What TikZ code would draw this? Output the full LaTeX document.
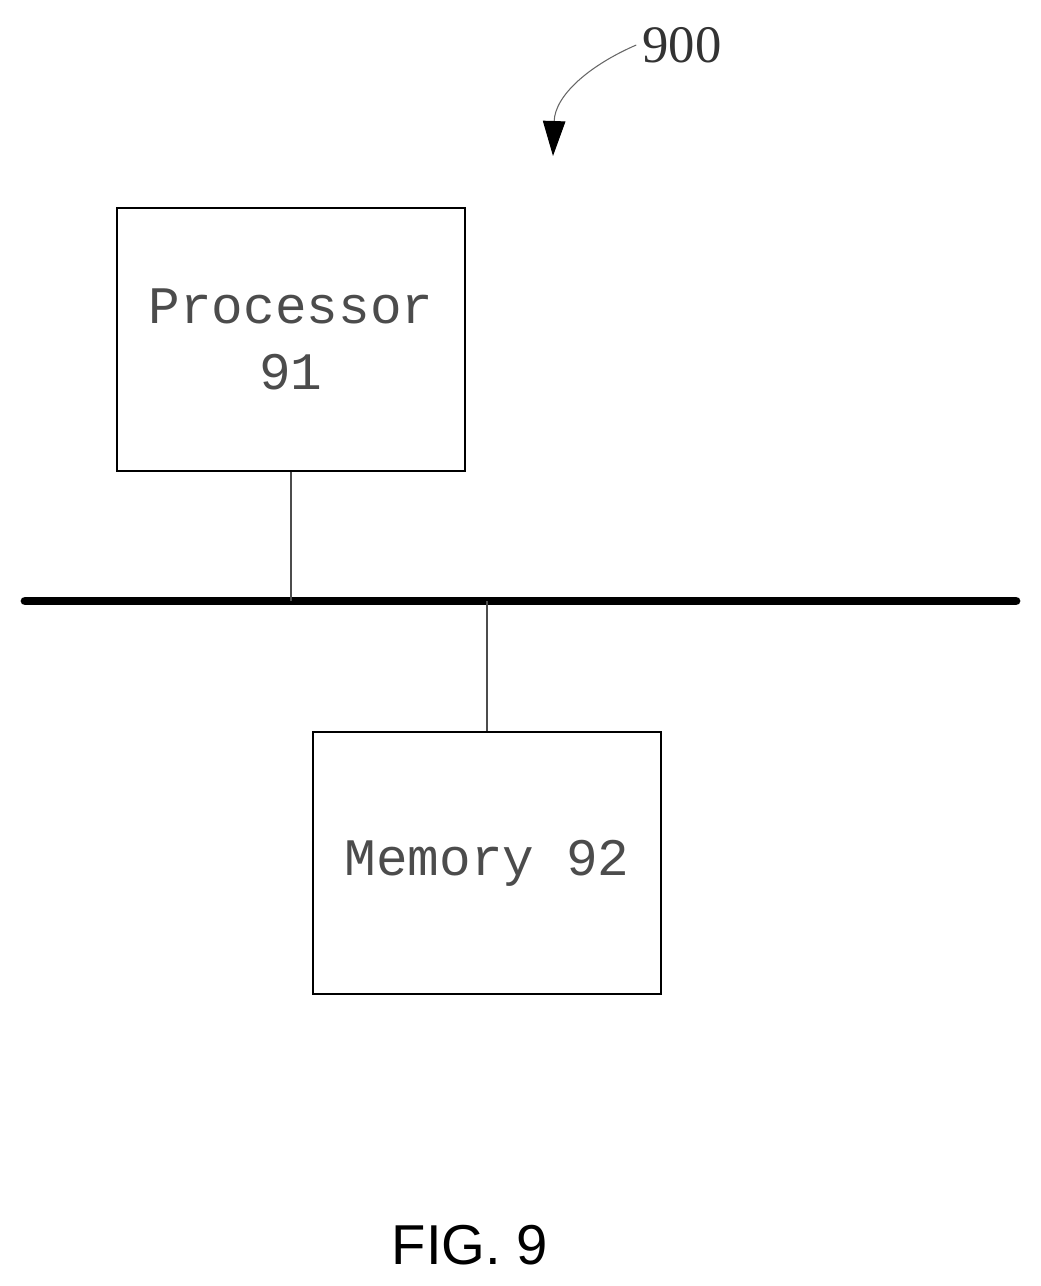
\documentclass[tikz,border=0pt]{standalone}
\usepackage{fontspec}
\setmainfont{Liberation Serif}
\newfontfamily\boxfont{Liberation Mono}
\newfontfamily\figfont{Liberation Sans}
\usetikzlibrary{positioning, arrows.meta}
\begin{document}
\begin{tikzpicture}[x=0.02cm,y=-0.02cm]
  \tikzstyle{block}=[draw,line width=0.6pt,inner sep=0pt,text=black!70,font=\boxfont\fontsize{30}{38}\selectfont,align=center]
  \tikzstyle{tap}=[line width=0.6pt,draw=black!70]
  \useasboundingbox (0,0) rectangle (1041,1286);

  \node (proc) [block,minimum width=348*0.02cm,minimum height=263*0.02cm] at (291,339.5) {Processor\\91};
  \node (mem) [block,minimum width=348*0.02cm,minimum height=262*0.02cm] at (487,863) {Memory 92};

  \coordinate (busL) at (25,601);
  \coordinate (busR) at (1016,601);
  \draw [line width=5pt,line cap=round] (busL) -- (busR);

  \coordinate (pbus) at (291,601);
  \coordinate (mbus) at (487,601);
  \draw [tap] (proc.south) -- (pbus);
  \draw [tap] (mbus) -- (mem.north);

  \node (lbl) [font=\fontsize{30}{36}\selectfont,text=black!80] at (682,45) {900};
  \coordinate (tip) at (553,156);
  \draw [-{Triangle[length=0.7cm,width=0.45cm,color=black]},line width=0.6pt,draw=black!60] (lbl.west) .. controls (590,65) and (555,95) .. (tip);

  \node (fig) [font=\figfont\fontsize{32}{38}\selectfont] at (470,1245) {FIG. 9};
\end{tikzpicture}
\end{document}
